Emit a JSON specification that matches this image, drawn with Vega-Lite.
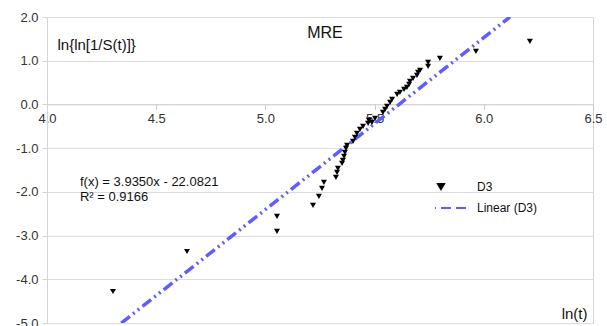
{
  "$schema": "https://vega.github.io/schema/vega-lite/v6.json",
  "width": 546,
  "height": 306,
  "autosize": {"type": "none"},
  "padding": {"left": 47, "top": 17, "right": 14, "bottom": 3},
  "background": "white",
  "config": {
    "font": "Liberation Sans",
    "view": {"stroke": "#d4d4d4", "strokeWidth": 1}
  },
  "title": {"text": "MRE", "fontSize": 16, "fontWeight": "normal", "color": "#111111", "offset": -30, "frame": "group", "anchor": "middle", "dx": 5},
  "datasets": {
    "d3": [
      {"lnt": 4.302, "y": -4.279, "series": "D3"},
      {"lnt": 4.641, "y": -3.364, "series": "D3"},
      {"lnt": 5.053, "y": -2.906, "series": "D3"},
      {"lnt": 5.053, "y": -2.563, "series": "D3"},
      {"lnt": 5.218, "y": -2.311, "series": "D3"},
      {"lnt": 5.245, "y": -2.105, "series": "D3"},
      {"lnt": 5.259, "y": -1.922, "series": "D3"},
      {"lnt": 5.268, "y": -1.785, "series": "D3"},
      {"lnt": 5.323, "y": -1.670, "series": "D3"},
      {"lnt": 5.328, "y": -1.556, "series": "D3"},
      {"lnt": 5.332, "y": -1.465, "series": "D3"},
      {"lnt": 5.351, "y": -1.350, "series": "D3"},
      {"lnt": 5.355, "y": -1.281, "series": "D3"},
      {"lnt": 5.360, "y": -1.190, "series": "D3"},
      {"lnt": 5.364, "y": -1.098, "series": "D3"},
      {"lnt": 5.369, "y": -1.007, "series": "D3"},
      {"lnt": 5.374, "y": -0.938, "series": "D3"},
      {"lnt": 5.401, "y": -0.847, "series": "D3"},
      {"lnt": 5.410, "y": -0.755, "series": "D3"},
      {"lnt": 5.419, "y": -0.664, "series": "D3"},
      {"lnt": 5.433, "y": -0.572, "series": "D3"},
      {"lnt": 5.447, "y": -0.503, "series": "D3"},
      {"lnt": 5.470, "y": -0.435, "series": "D3"},
      {"lnt": 5.474, "y": -0.366, "series": "D3"},
      {"lnt": 5.488, "y": -0.412, "series": "D3"},
      {"lnt": 5.502, "y": -0.320, "series": "D3"},
      {"lnt": 5.538, "y": -0.183, "series": "D3"},
      {"lnt": 5.548, "y": -0.114, "series": "D3"},
      {"lnt": 5.557, "y": -0.046, "series": "D3"},
      {"lnt": 5.571, "y": 0.046, "series": "D3"},
      {"lnt": 5.580, "y": 0.114, "series": "D3"},
      {"lnt": 5.603, "y": 0.229, "series": "D3"},
      {"lnt": 5.616, "y": 0.275, "series": "D3"},
      {"lnt": 5.635, "y": 0.343, "series": "D3"},
      {"lnt": 5.648, "y": 0.389, "series": "D3"},
      {"lnt": 5.658, "y": 0.458, "series": "D3"},
      {"lnt": 5.662, "y": 0.526, "series": "D3"},
      {"lnt": 5.676, "y": 0.595, "series": "D3"},
      {"lnt": 5.694, "y": 0.664, "series": "D3"},
      {"lnt": 5.699, "y": 0.732, "series": "D3"},
      {"lnt": 5.708, "y": 0.778, "series": "D3"},
      {"lnt": 5.745, "y": 0.870, "series": "D3"},
      {"lnt": 5.745, "y": 0.961, "series": "D3"},
      {"lnt": 5.799, "y": 1.053, "series": "D3"},
      {"lnt": 5.964, "y": 1.213, "series": "D3"},
      {"lnt": 6.211, "y": 1.442, "series": "D3"}
    ],
    "trend": [
      {"lnt": 4.34, "y": -5.004, "series": "Linear (D3)"},
      {"lnt": 6.12, "y": 2.000, "series": "Linear (D3)"}
    ]
  },
  "layer": [
    {
      "data": {"name": "trend"},
      "mark": {"type": "line", "strokeWidth": 3.5, "strokeDash": [11, 4, 2, 4, 2, 4], "clip": true},
      "encoding": {
        "x": {
          "field": "lnt", "type": "quantitative",
          "scale": {"domain": [4, 6.5], "nice": false, "zero": false},
          "axis": {
            "title": "ln(t)", "offset": -218.6, "values": [4, 4.5, 5, 5.5, 6, 6.5],
            "labelExpr": "format(datum.value, '.1f')",
            "grid": false, "domainColor": "#d4d4d4", "tickColor": "#c8c8c8", "tickSize": 5,
            "labelFontSize": 13, "labelColor": "#333333", "labelPadding": 3, "labelFlush": false, "labelOverlap": false,
            "titleX": 540, "titleY": 209, "titleAlign": "right", "titleBaseline": "middle",
            "titleFontSize": 15, "titleFontWeight": "normal", "titleColor": "#111111"
          }
        },
        "y": {
          "field": "y", "type": "quantitative",
          "scale": {"domain": [-5, 2], "nice": false, "zero": false},
          "axis": {
            "title": "ln{ln[1/S(t)]}", "values": [-5, -4, -3, -2, -1, 0, 1, 2],
            "labelExpr": "(datum.value < 0 ? '-' : '') + format(abs(datum.value), '.1f')",
            "grid": true, "gridColor": "#dcdcdc", "domainColor": "#d4d4d4", "tickColor": "#d4d4d4", "tickSize": 5,
            "labelFontSize": 13, "labelColor": "#333333", "labelPadding": 4,
            "titleAngle": 0, "titleX": 10, "titleY": 27, "titleAlign": "left", "titleBaseline": "middle",
            "titleFontSize": 15, "titleFontWeight": "normal", "titleColor": "#111111"
          }
        },
        "color": {
          "field": "series", "type": "nominal",
          "scale": {"domain": ["D3", "Linear (D3)"], "range": ["#000000", "#5e5eff"]},
          "legend": {
            "orient": "none", "legendX": 388, "legendY": 163, "title": null,
            "symbolSize": 3364, "symbolStrokeWidth": 2, "labelFontSize": 12, "labelColor": "#111111",
            "labelOffset": 30, "clipHeight": 14, "rowPadding": 7, "padding": 0,
            "encode": {
              "symbols": {
                "update": {
                  "shape": {"signal": "datum.value === 'D3' ? 'triangle-down' : 'stroke'"},
                  "size": {"signal": "datum.value === 'D3' ? 90 : 3364"},
                  "fill": {"signal": "datum.value === 'D3' ? '#000000' : 'transparent'"},
                  "stroke": {"signal": "datum.value === 'D3' ? '#000000' : '#5e5eff'"},
                  "strokeDash": {"signal": "datum.value === 'D3' ? [] : [2, 5, 2, 5, 10, 5, 10, 5, 10, 5]"},
                  "strokeWidth": {"signal": "datum.value === 'D3' ? 0 : 2"},
                  "opacity": {"value": 1}
                }
              }
            }
          }
        }
      }
    },
    {
      "data": {"name": "d3"},
      "mark": {"type": "point", "shape": "triangle-down", "filled": true, "size": 36, "opacity": 1},
      "encoding": {
        "x": {"field": "lnt", "type": "quantitative"},
        "y": {"field": "y", "type": "quantitative"},
        "color": {"field": "series", "type": "nominal"}
      }
    },
    {
      "data": {"values": [{}]},
      "mark": {"type": "text", "align": "left", "baseline": "middle", "fontSize": 13, "lineHeight": 15, "color": "#111111"},
      "encoding": {
        "x": {"datum": 4.151},
        "y": {"datum": -1.785},
        "text": {"value": ["f(x) = 3.9350x - 22.0821", "R² = 0.9166"]}
      }
    }
  ]
}
